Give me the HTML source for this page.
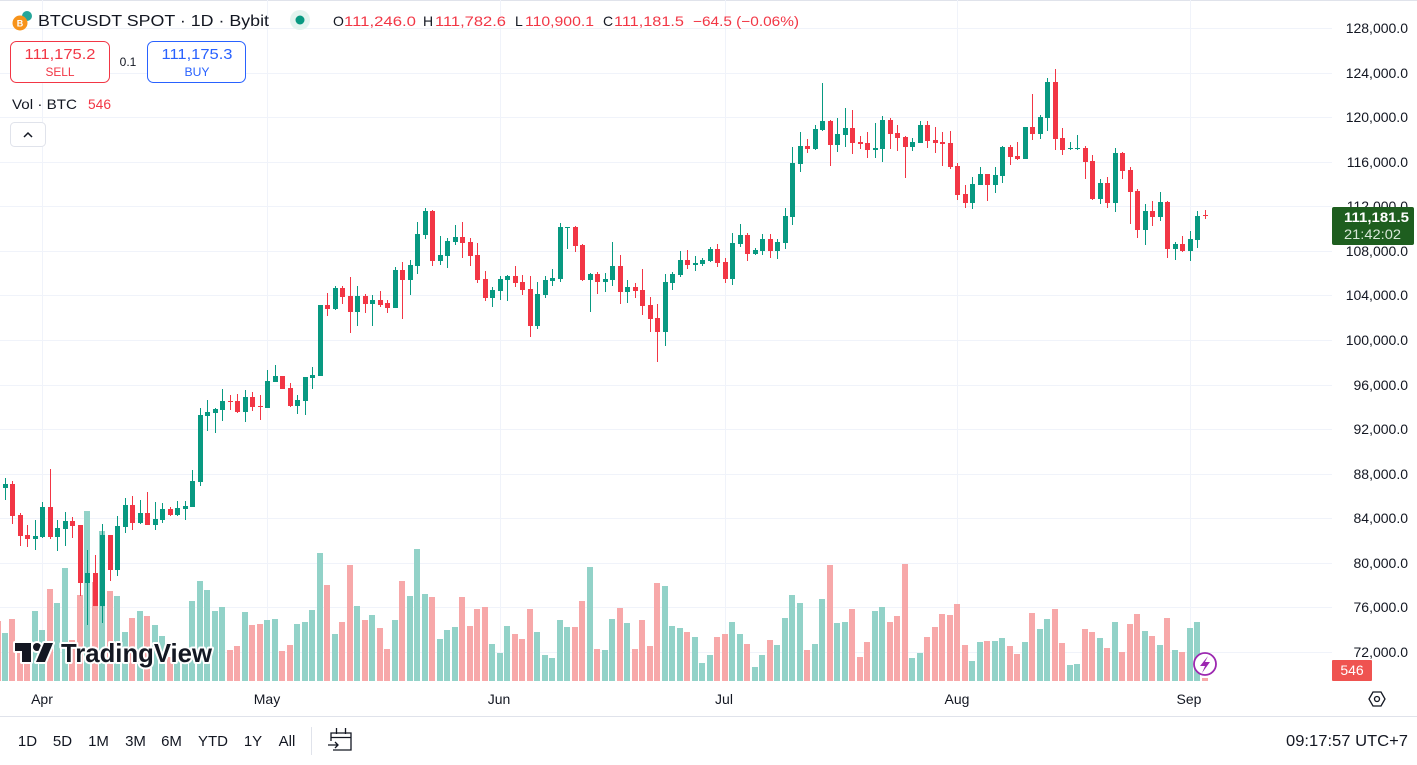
<!DOCTYPE html>
<html><head><meta charset="utf-8"><style>
html,body{margin:0;padding:0;background:#fff;}
svg{display:block;font-family:"Liberation Sans",sans-serif;}
</style></head><body>
<svg width="1417" height="765" viewBox="0 0 1417 765" xmlns="http://www.w3.org/2000/svg">
<rect x="0" y="0" width="1417" height="765" fill="#fff"/>
<line x1="0" y1="0.5" x2="1417" y2="0.5" stroke="#e0e3eb"/>
<!-- grid -->
<g stroke="#f0f3fa" stroke-width="1">
<line x1="0" y1="28.5" x2="1332" y2="28.5"/><line x1="0" y1="73.5" x2="1332" y2="73.5"/><line x1="0" y1="117.5" x2="1332" y2="117.5"/><line x1="0" y1="162.5" x2="1332" y2="162.5"/><line x1="0" y1="206.5" x2="1332" y2="206.5"/><line x1="0" y1="251.5" x2="1332" y2="251.5"/><line x1="0" y1="295.5" x2="1332" y2="295.5"/><line x1="0" y1="340.5" x2="1332" y2="340.5"/><line x1="0" y1="385.5" x2="1332" y2="385.5"/><line x1="0" y1="429.5" x2="1332" y2="429.5"/><line x1="0" y1="474.5" x2="1332" y2="474.5"/><line x1="0" y1="518.5" x2="1332" y2="518.5"/><line x1="0" y1="563.5" x2="1332" y2="563.5"/><line x1="0" y1="607.5" x2="1332" y2="607.5"/><line x1="0" y1="652.5" x2="1332" y2="652.5"/>
<line x1="42.5" y1="0" x2="42.5" y2="681"/><line x1="267.5" y1="0" x2="267.5" y2="681"/><line x1="500.5" y1="0" x2="500.5" y2="681"/><line x1="725.5" y1="0" x2="725.5" y2="681"/><line x1="957.5" y1="0" x2="957.5" y2="681"/><line x1="1190.5" y1="0" x2="1190.5" y2="681"/>
</g>
<!-- volume green -->
<g fill="#92d2c8">
<rect x="2" y="633" width="6" height="48"/><rect x="32" y="611" width="6" height="70"/><rect x="39" y="630" width="6" height="51"/><rect x="54" y="603" width="6" height="78"/><rect x="62" y="568" width="6" height="113"/><rect x="84" y="511" width="6" height="170"/><rect x="99" y="531" width="6" height="150"/><rect x="114" y="596" width="6" height="85"/><rect x="122" y="632" width="6" height="49"/><rect x="137" y="611" width="6" height="70"/><rect x="152" y="625" width="6" height="56"/><rect x="159" y="636" width="6" height="45"/><rect x="174" y="650" width="6" height="31"/><rect x="182" y="648" width="6" height="33"/><rect x="189" y="601" width="6" height="80"/><rect x="197" y="581" width="6" height="100"/><rect x="204" y="590" width="6" height="91"/><rect x="212" y="611" width="6" height="70"/><rect x="219" y="607" width="6" height="74"/><rect x="242" y="612" width="6" height="69"/><rect x="264" y="620" width="6" height="61"/><rect x="272" y="619" width="6" height="62"/><rect x="294" y="624" width="6" height="57"/><rect x="302" y="622" width="6" height="59"/><rect x="309" y="610" width="6" height="71"/><rect x="317" y="553" width="6" height="128"/><rect x="332" y="634" width="6" height="47"/><rect x="354" y="606" width="6" height="75"/><rect x="369" y="615" width="6" height="66"/><rect x="392" y="620" width="6" height="61"/><rect x="407" y="596" width="6" height="85"/><rect x="414" y="549" width="6" height="132"/><rect x="422" y="594" width="6" height="87"/><rect x="437" y="639" width="6" height="42"/><rect x="444" y="630" width="6" height="51"/><rect x="452" y="627" width="6" height="54"/><rect x="489" y="644" width="6" height="37"/><rect x="497" y="653" width="6" height="28"/><rect x="504" y="626" width="6" height="55"/><rect x="534" y="632" width="6" height="49"/><rect x="542" y="655" width="6" height="26"/><rect x="549" y="658" width="6" height="23"/><rect x="557" y="620" width="6" height="61"/><rect x="564" y="627" width="6" height="54"/><rect x="587" y="567" width="6" height="114"/><rect x="602" y="650" width="6" height="31"/><rect x="609" y="619" width="6" height="62"/><rect x="624" y="623" width="6" height="58"/><rect x="662" y="586" width="6" height="95"/><rect x="669" y="626" width="6" height="55"/><rect x="677" y="628" width="6" height="53"/><rect x="692" y="637" width="6" height="44"/><rect x="699" y="663" width="6" height="18"/><rect x="707" y="655" width="6" height="26"/><rect x="729" y="622" width="6" height="59"/><rect x="737" y="634" width="6" height="47"/><rect x="752" y="667" width="6" height="14"/><rect x="759" y="655" width="6" height="26"/><rect x="774" y="645" width="6" height="36"/><rect x="782" y="618" width="6" height="63"/><rect x="789" y="595" width="6" height="86"/><rect x="797" y="603" width="6" height="78"/><rect x="812" y="644" width="6" height="37"/><rect x="819" y="599" width="6" height="82"/><rect x="834" y="623" width="6" height="58"/><rect x="842" y="622" width="6" height="59"/><rect x="872" y="611" width="6" height="70"/><rect x="879" y="607" width="6" height="74"/><rect x="909" y="658" width="6" height="23"/><rect x="917" y="653" width="6" height="28"/><rect x="969" y="661" width="6" height="20"/><rect x="977" y="642" width="6" height="39"/><rect x="992" y="641" width="6" height="40"/><rect x="999" y="638" width="6" height="43"/><rect x="1022" y="642" width="6" height="39"/><rect x="1037" y="629" width="6" height="52"/><rect x="1044" y="619" width="6" height="62"/><rect x="1067" y="665" width="6" height="16"/><rect x="1074" y="664" width="6" height="17"/><rect x="1097" y="638" width="6" height="43"/><rect x="1112" y="622" width="6" height="59"/><rect x="1142" y="631" width="6" height="50"/><rect x="1157" y="645" width="6" height="36"/><rect x="1172" y="650" width="6" height="31"/><rect x="1187" y="628" width="6" height="53"/><rect x="1194" y="622" width="6" height="59"/>
</g>
<!-- volume red -->
<g fill="#f7a8a9">
<rect x="-5" y="621" width="6" height="60"/><rect x="9" y="619" width="6" height="62"/><rect x="17" y="650" width="6" height="31"/><rect x="24" y="653" width="6" height="28"/><rect x="47" y="589" width="6" height="92"/><rect x="69" y="640" width="6" height="41"/><rect x="77" y="595" width="6" height="86"/><rect x="92" y="582" width="6" height="99"/><rect x="107" y="591" width="6" height="90"/><rect x="129" y="618" width="6" height="63"/><rect x="144" y="616" width="6" height="65"/><rect x="167" y="657" width="6" height="24"/><rect x="227" y="650" width="6" height="31"/><rect x="234" y="646" width="6" height="35"/><rect x="249" y="625" width="6" height="56"/><rect x="257" y="624" width="6" height="57"/><rect x="279" y="651" width="6" height="30"/><rect x="287" y="645" width="6" height="36"/><rect x="324" y="585" width="6" height="96"/><rect x="339" y="622" width="6" height="59"/><rect x="347" y="565" width="6" height="116"/><rect x="362" y="620" width="6" height="61"/><rect x="377" y="628" width="6" height="53"/><rect x="384" y="649" width="6" height="32"/><rect x="399" y="581" width="6" height="100"/><rect x="429" y="597" width="6" height="84"/><rect x="459" y="597" width="6" height="84"/><rect x="467" y="626" width="6" height="55"/><rect x="474" y="609" width="6" height="72"/><rect x="482" y="607" width="6" height="74"/><rect x="512" y="634" width="6" height="47"/><rect x="519" y="639" width="6" height="42"/><rect x="527" y="609" width="6" height="72"/><rect x="572" y="627" width="6" height="54"/><rect x="579" y="601" width="6" height="80"/><rect x="594" y="649" width="6" height="32"/><rect x="617" y="608" width="6" height="73"/><rect x="632" y="649" width="6" height="32"/><rect x="639" y="620" width="6" height="61"/><rect x="647" y="646" width="6" height="35"/><rect x="654" y="583" width="6" height="98"/><rect x="684" y="632" width="6" height="49"/><rect x="714" y="637" width="6" height="44"/><rect x="722" y="634" width="6" height="47"/><rect x="744" y="644" width="6" height="37"/><rect x="767" y="640" width="6" height="41"/><rect x="804" y="650" width="6" height="31"/><rect x="827" y="565" width="6" height="116"/><rect x="849" y="609" width="6" height="72"/><rect x="857" y="657" width="6" height="24"/><rect x="864" y="642" width="6" height="39"/><rect x="887" y="622" width="6" height="59"/><rect x="894" y="616" width="6" height="65"/><rect x="902" y="564" width="6" height="117"/><rect x="924" y="637" width="6" height="44"/><rect x="932" y="627" width="6" height="54"/><rect x="939" y="614" width="6" height="67"/><rect x="947" y="615" width="6" height="66"/><rect x="954" y="604" width="6" height="77"/><rect x="962" y="645" width="6" height="36"/><rect x="984" y="641" width="6" height="40"/><rect x="1007" y="646" width="6" height="35"/><rect x="1014" y="654" width="6" height="27"/><rect x="1029" y="613" width="6" height="68"/><rect x="1052" y="609" width="6" height="72"/><rect x="1059" y="643" width="6" height="38"/><rect x="1082" y="629" width="6" height="52"/><rect x="1089" y="632" width="6" height="49"/><rect x="1104" y="648" width="6" height="33"/><rect x="1119" y="652" width="6" height="29"/><rect x="1127" y="624" width="6" height="57"/><rect x="1134" y="614" width="6" height="67"/><rect x="1149" y="636" width="6" height="45"/><rect x="1164" y="618" width="6" height="63"/><rect x="1179" y="652" width="6" height="29"/><rect x="1202" y="678" width="6" height="3"/>
</g>
<!-- candles green -->
<g fill="#089981">
<rect x="5" y="478" width="1" height="22"/><rect x="3" y="484" width="5" height="4"/>
<rect x="35" y="520" width="1" height="30"/><rect x="33" y="536" width="5" height="3"/>
<rect x="42" y="502" width="1" height="36"/><rect x="40" y="507" width="5" height="30"/>
<rect x="57" y="520" width="1" height="31"/><rect x="55" y="528" width="5" height="9"/>
<rect x="65" y="512" width="1" height="34"/><rect x="63" y="521" width="5" height="8"/>
<rect x="87" y="550" width="1" height="75"/><rect x="85" y="573" width="5" height="10"/>
<rect x="102" y="524" width="1" height="99"/><rect x="100" y="535" width="5" height="71"/>
<rect x="117" y="516" width="1" height="60"/><rect x="115" y="526" width="5" height="44"/>
<rect x="125" y="498" width="1" height="35"/><rect x="123" y="505" width="5" height="22"/>
<rect x="140" y="500" width="1" height="24"/><rect x="138" y="513" width="5" height="10"/>
<rect x="155" y="502" width="1" height="28"/><rect x="153" y="519" width="5" height="6"/>
<rect x="162" y="503" width="1" height="20"/><rect x="160" y="509" width="5" height="11"/>
<rect x="177" y="501" width="1" height="15"/><rect x="175" y="508" width="5" height="7"/>
<rect x="185" y="501" width="1" height="19"/><rect x="183" y="506" width="5" height="3"/>
<rect x="192" y="470" width="1" height="37"/><rect x="190" y="481" width="5" height="26"/>
<rect x="200" y="408" width="1" height="78"/><rect x="198" y="415" width="5" height="67"/>
<rect x="207" y="400" width="1" height="31"/><rect x="205" y="412" width="5" height="4"/>
<rect x="215" y="408" width="1" height="25"/><rect x="213" y="409" width="5" height="4"/>
<rect x="222" y="389" width="1" height="32"/><rect x="220" y="401" width="5" height="9"/>
<rect x="245" y="390" width="1" height="32"/><rect x="243" y="397" width="5" height="15"/>
<rect x="267" y="370" width="1" height="38"/><rect x="265" y="381" width="5" height="27"/>
<rect x="275" y="365" width="1" height="17"/><rect x="273" y="376" width="5" height="6"/>
<rect x="297" y="395" width="1" height="19"/><rect x="295" y="400" width="5" height="6"/>
<rect x="305" y="377" width="1" height="38"/><rect x="303" y="377" width="5" height="24"/>
<rect x="312" y="367" width="1" height="22"/><rect x="310" y="375" width="5" height="3"/>
<rect x="320" y="305" width="1" height="71"/><rect x="318" y="305" width="5" height="71"/>
<rect x="335" y="286" width="1" height="24"/><rect x="333" y="288" width="5" height="21"/>
<rect x="357" y="286" width="1" height="40"/><rect x="355" y="296" width="5" height="16"/>
<rect x="372" y="295" width="1" height="31"/><rect x="370" y="300" width="5" height="4"/>
<rect x="395" y="267" width="1" height="41"/><rect x="393" y="270" width="5" height="38"/>
<rect x="410" y="260" width="1" height="35"/><rect x="408" y="265" width="5" height="15"/>
<rect x="417" y="222" width="1" height="52"/><rect x="415" y="234" width="5" height="32"/>
<rect x="425" y="208" width="1" height="31"/><rect x="423" y="211" width="5" height="24"/>
<rect x="440" y="236" width="1" height="29"/><rect x="438" y="255" width="5" height="6"/>
<rect x="447" y="238" width="1" height="30"/><rect x="445" y="241" width="5" height="15"/>
<rect x="455" y="225" width="1" height="20"/><rect x="453" y="237" width="5" height="5"/>
<rect x="492" y="287" width="1" height="20"/><rect x="490" y="290" width="5" height="8"/>
<rect x="500" y="276" width="1" height="24"/><rect x="498" y="279" width="5" height="12"/>
<rect x="507" y="275" width="1" height="26"/><rect x="505" y="276" width="5" height="4"/>
<rect x="537" y="282" width="1" height="47"/><rect x="535" y="294" width="5" height="32"/>
<rect x="545" y="276" width="1" height="22"/><rect x="543" y="280" width="5" height="15"/>
<rect x="552" y="269" width="1" height="17"/><rect x="550" y="278" width="5" height="3"/>
<rect x="560" y="223" width="1" height="59"/><rect x="558" y="227" width="5" height="52"/>
<rect x="567" y="227" width="1" height="22"/><rect x="565" y="227" width="5" height="1"/>
<rect x="590" y="273" width="1" height="39"/><rect x="588" y="274" width="5" height="6"/>
<rect x="605" y="273" width="1" height="19"/><rect x="603" y="279" width="5" height="3"/>
<rect x="612" y="242" width="1" height="44"/><rect x="610" y="266" width="5" height="14"/>
<rect x="627" y="280" width="1" height="23"/><rect x="625" y="287" width="5" height="5"/>
<rect x="665" y="274" width="1" height="72"/><rect x="663" y="282" width="5" height="50"/>
<rect x="672" y="272" width="1" height="18"/><rect x="670" y="274" width="5" height="9"/>
<rect x="680" y="251" width="1" height="26"/><rect x="678" y="260" width="5" height="15"/>
<rect x="695" y="256" width="1" height="15"/><rect x="693" y="263" width="5" height="2"/>
<rect x="702" y="258" width="1" height="8"/><rect x="700" y="260" width="5" height="4"/>
<rect x="710" y="247" width="1" height="15"/><rect x="708" y="249" width="5" height="12"/>
<rect x="732" y="233" width="1" height="52"/><rect x="730" y="243" width="5" height="36"/>
<rect x="740" y="224" width="1" height="23"/><rect x="738" y="235" width="5" height="9"/>
<rect x="755" y="248" width="1" height="7"/><rect x="753" y="250" width="5" height="4"/>
<rect x="762" y="234" width="1" height="21"/><rect x="760" y="239" width="5" height="12"/>
<rect x="777" y="239" width="1" height="20"/><rect x="775" y="242" width="5" height="9"/>
<rect x="785" y="208" width="1" height="41"/><rect x="783" y="216" width="5" height="27"/>
<rect x="792" y="147" width="1" height="78"/><rect x="790" y="163" width="5" height="54"/>
<rect x="800" y="132" width="1" height="40"/><rect x="798" y="146" width="5" height="18"/>
<rect x="815" y="125" width="1" height="25"/><rect x="813" y="129" width="5" height="20"/>
<rect x="822" y="83" width="1" height="48"/><rect x="820" y="121" width="5" height="9"/>
<rect x="837" y="118" width="1" height="34"/><rect x="835" y="134" width="5" height="11"/>
<rect x="845" y="108" width="1" height="39"/><rect x="843" y="128" width="5" height="7"/>
<rect x="875" y="123" width="1" height="35"/><rect x="873" y="148" width="5" height="2"/>
<rect x="882" y="116" width="1" height="46"/><rect x="880" y="120" width="5" height="29"/>
<rect x="912" y="138" width="1" height="13"/><rect x="910" y="142" width="5" height="5"/>
<rect x="920" y="121" width="1" height="22"/><rect x="918" y="125" width="5" height="18"/>
<rect x="972" y="177" width="1" height="32"/><rect x="970" y="184" width="5" height="19"/>
<rect x="980" y="167" width="1" height="18"/><rect x="978" y="174" width="5" height="11"/>
<rect x="995" y="167" width="1" height="26"/><rect x="993" y="175" width="5" height="10"/>
<rect x="1002" y="146" width="1" height="37"/><rect x="1000" y="147" width="5" height="29"/>
<rect x="1025" y="127" width="1" height="32"/><rect x="1023" y="127" width="5" height="32"/>
<rect x="1040" y="115" width="1" height="24"/><rect x="1038" y="117" width="5" height="17"/>
<rect x="1047" y="78" width="1" height="53"/><rect x="1045" y="82" width="5" height="36"/>
<rect x="1070" y="142" width="1" height="8"/><rect x="1068" y="148" width="5" height="1"/>
<rect x="1077" y="135" width="1" height="15"/><rect x="1075" y="148" width="5" height="1"/>
<rect x="1100" y="179" width="1" height="25"/><rect x="1098" y="183" width="5" height="16"/>
<rect x="1115" y="148" width="1" height="64"/><rect x="1113" y="153" width="5" height="50"/>
<rect x="1145" y="204" width="1" height="41"/><rect x="1143" y="211" width="5" height="19"/>
<rect x="1160" y="192" width="1" height="29"/><rect x="1158" y="202" width="5" height="15"/>
<rect x="1175" y="242" width="1" height="18"/><rect x="1173" y="244" width="5" height="5"/>
<rect x="1190" y="231" width="1" height="30"/><rect x="1188" y="239" width="5" height="12"/>
<rect x="1197" y="211" width="1" height="37"/><rect x="1195" y="216" width="5" height="24"/>
</g>
<!-- candles red -->
<g fill="#f23645">
<rect x="12" y="481" width="1" height="43"/><rect x="10" y="484" width="5" height="32"/>
<rect x="20" y="513" width="1" height="33"/><rect x="18" y="515" width="5" height="21"/>
<rect x="27" y="525" width="1" height="22"/><rect x="25" y="535" width="5" height="4"/>
<rect x="50" y="469" width="1" height="70"/><rect x="48" y="507" width="5" height="30"/>
<rect x="72" y="517" width="1" height="21"/><rect x="70" y="521" width="5" height="5"/>
<rect x="80" y="525" width="1" height="71"/><rect x="78" y="525" width="5" height="58"/>
<rect x="95" y="555" width="1" height="51"/><rect x="93" y="573" width="5" height="33"/>
<rect x="110" y="535" width="1" height="46"/><rect x="108" y="535" width="5" height="35"/>
<rect x="132" y="496" width="1" height="34"/><rect x="130" y="505" width="5" height="18"/>
<rect x="147" y="492" width="1" height="33"/><rect x="145" y="513" width="5" height="12"/>
<rect x="170" y="507" width="1" height="9"/><rect x="168" y="509" width="5" height="6"/>
<rect x="230" y="395" width="1" height="15"/><rect x="228" y="401" width="5" height="1"/>
<rect x="237" y="394" width="1" height="19"/><rect x="235" y="401" width="5" height="11"/>
<rect x="252" y="392" width="1" height="19"/><rect x="250" y="397" width="5" height="10"/>
<rect x="260" y="395" width="1" height="25"/><rect x="258" y="406" width="5" height="1"/>
<rect x="282" y="376" width="1" height="13"/><rect x="280" y="376" width="5" height="13"/>
<rect x="290" y="383" width="1" height="24"/><rect x="288" y="388" width="5" height="18"/>
<rect x="327" y="293" width="1" height="23"/><rect x="325" y="305" width="5" height="4"/>
<rect x="342" y="286" width="1" height="18"/><rect x="340" y="288" width="5" height="9"/>
<rect x="350" y="277" width="1" height="56"/><rect x="348" y="296" width="5" height="16"/>
<rect x="365" y="294" width="1" height="19"/><rect x="363" y="296" width="5" height="8"/>
<rect x="380" y="291" width="1" height="16"/><rect x="378" y="300" width="5" height="5"/>
<rect x="387" y="300" width="1" height="13"/><rect x="385" y="303" width="5" height="5"/>
<rect x="402" y="262" width="1" height="57"/><rect x="400" y="270" width="5" height="10"/>
<rect x="432" y="210" width="1" height="56"/><rect x="430" y="211" width="5" height="50"/>
<rect x="462" y="222" width="1" height="36"/><rect x="460" y="237" width="5" height="6"/>
<rect x="470" y="238" width="1" height="28"/><rect x="468" y="242" width="5" height="14"/>
<rect x="477" y="243" width="1" height="40"/><rect x="475" y="255" width="5" height="25"/>
<rect x="485" y="271" width="1" height="30"/><rect x="483" y="279" width="5" height="19"/>
<rect x="515" y="266" width="1" height="21"/><rect x="513" y="276" width="5" height="7"/>
<rect x="522" y="275" width="1" height="20"/><rect x="520" y="282" width="5" height="8"/>
<rect x="530" y="276" width="1" height="61"/><rect x="528" y="289" width="5" height="37"/>
<rect x="575" y="226" width="1" height="26"/><rect x="573" y="227" width="5" height="19"/>
<rect x="582" y="244" width="1" height="37"/><rect x="580" y="245" width="5" height="35"/>
<rect x="597" y="272" width="1" height="22"/><rect x="595" y="274" width="5" height="8"/>
<rect x="620" y="255" width="1" height="49"/><rect x="618" y="266" width="5" height="26"/>
<rect x="635" y="283" width="1" height="15"/><rect x="633" y="287" width="5" height="4"/>
<rect x="642" y="269" width="1" height="46"/><rect x="640" y="290" width="5" height="16"/>
<rect x="650" y="297" width="1" height="35"/><rect x="648" y="305" width="5" height="14"/>
<rect x="657" y="304" width="1" height="58"/><rect x="655" y="318" width="5" height="14"/>
<rect x="687" y="250" width="1" height="19"/><rect x="685" y="260" width="5" height="5"/>
<rect x="717" y="244" width="1" height="23"/><rect x="715" y="249" width="5" height="14"/>
<rect x="725" y="258" width="1" height="25"/><rect x="723" y="262" width="5" height="17"/>
<rect x="747" y="233" width="1" height="28"/><rect x="745" y="235" width="5" height="19"/>
<rect x="770" y="234" width="1" height="24"/><rect x="768" y="239" width="5" height="12"/>
<rect x="807" y="139" width="1" height="14"/><rect x="805" y="146" width="5" height="3"/>
<rect x="830" y="120" width="1" height="46"/><rect x="828" y="121" width="5" height="24"/>
<rect x="852" y="110" width="1" height="44"/><rect x="850" y="128" width="5" height="15"/>
<rect x="860" y="136" width="1" height="13"/><rect x="858" y="142" width="5" height="2"/>
<rect x="867" y="132" width="1" height="26"/><rect x="865" y="143" width="5" height="7"/>
<rect x="890" y="118" width="1" height="31"/><rect x="888" y="120" width="5" height="14"/>
<rect x="897" y="125" width="1" height="26"/><rect x="895" y="133" width="5" height="5"/>
<rect x="905" y="136" width="1" height="42"/><rect x="903" y="137" width="5" height="10"/>
<rect x="927" y="121" width="1" height="27"/><rect x="925" y="125" width="5" height="16"/>
<rect x="935" y="127" width="1" height="26"/><rect x="933" y="140" width="5" height="3"/>
<rect x="942" y="132" width="1" height="34"/><rect x="940" y="142" width="5" height="2"/>
<rect x="950" y="131" width="1" height="38"/><rect x="948" y="143" width="5" height="24"/>
<rect x="957" y="163" width="1" height="37"/><rect x="955" y="166" width="5" height="29"/>
<rect x="965" y="185" width="1" height="23"/><rect x="963" y="194" width="5" height="9"/>
<rect x="987" y="174" width="1" height="27"/><rect x="985" y="174" width="5" height="11"/>
<rect x="1010" y="145" width="1" height="20"/><rect x="1008" y="147" width="5" height="10"/>
<rect x="1017" y="142" width="1" height="18"/><rect x="1015" y="156" width="5" height="3"/>
<rect x="1032" y="94" width="1" height="46"/><rect x="1030" y="127" width="5" height="7"/>
<rect x="1055" y="69" width="1" height="81"/><rect x="1053" y="82" width="5" height="57"/>
<rect x="1062" y="128" width="1" height="27"/><rect x="1060" y="138" width="5" height="12"/>
<rect x="1085" y="146" width="1" height="33"/><rect x="1083" y="148" width="5" height="14"/>
<rect x="1092" y="155" width="1" height="45"/><rect x="1090" y="161" width="5" height="38"/>
<rect x="1107" y="177" width="1" height="31"/><rect x="1105" y="183" width="5" height="20"/>
<rect x="1122" y="152" width="1" height="27"/><rect x="1120" y="153" width="5" height="18"/>
<rect x="1130" y="167" width="1" height="57"/><rect x="1128" y="170" width="5" height="22"/>
<rect x="1137" y="189" width="1" height="49"/><rect x="1135" y="191" width="5" height="39"/>
<rect x="1152" y="201" width="1" height="25"/><rect x="1150" y="211" width="5" height="6"/>
<rect x="1167" y="201" width="1" height="57"/><rect x="1165" y="202" width="5" height="47"/>
<rect x="1182" y="236" width="1" height="16"/><rect x="1180" y="244" width="5" height="7"/>
<rect x="1205" y="210" width="1" height="9"/><rect x="1203" y="215" width="5" height="1"/>
</g>
<!-- TradingView logo -->
<g stroke="#fff" stroke-width="4" stroke-linejoin="round" paint-order="stroke" fill="#131722">
<path d="M15 643H31V662H22V651H15Z"/>
<circle cx="37" cy="647" r="4"/>
<path d="M44 643H53L45 662H36Z"/>
<text x="61" y="662" font-size="26" font-weight="bold" textLength="151" lengthAdjust="spacingAndGlyphs">TradingView</text>
</g>
<!-- lightning -->
<circle cx="1205" cy="664" r="11" fill="#fff" stroke="#9c27b0" stroke-width="1.8"/>
<path d="M1208 656L1200 666H1205L1202 673L1210 662H1205Z" fill="#9c27b0"/>
<!-- header -->
<circle cx="27" cy="16" r="5" fill="#26a69a"/>
<circle cx="20" cy="23" r="7.5" fill="#f7931a"/>
<text x="20" y="26.5" font-size="9" font-weight="bold" fill="#fff" text-anchor="middle">B</text>
<text x="38" y="26" font-size="16" fill="#131722" textLength="231" lengthAdjust="spacingAndGlyphs">BTCUSDT SPOT · 1D · Bybit</text>
<circle cx="300" cy="20" r="10" fill="#e3f4ef"/>
<circle cx="300" cy="20" r="4.5" fill="#089981"/>
<g font-size="14">
<text x="333" y="26" fill="#131722">O</text><text x="344" y="26" fill="#f23645" textLength="72" lengthAdjust="spacingAndGlyphs">111,246.0</text>
<text x="423" y="26" fill="#131722">H</text><text x="435" y="26" fill="#f23645" textLength="71" lengthAdjust="spacingAndGlyphs">111,782.6</text>
<text x="515" y="26" fill="#131722">L</text><text x="525" y="26" fill="#f23645" textLength="69" lengthAdjust="spacingAndGlyphs">110,900.1</text>
<text x="603" y="26" fill="#131722">C</text><text x="614" y="26" fill="#f23645" textLength="70" lengthAdjust="spacingAndGlyphs">111,181.5</text>
<text x="693" y="26" fill="#f23645" textLength="106" lengthAdjust="spacingAndGlyphs">−64.5 (−0.06%)</text>
</g>
<rect x="10.5" y="41.5" width="99" height="41" rx="6" fill="#fff" stroke="#f23645"/>
<text x="60" y="59" font-size="15" fill="#f23645" text-anchor="middle" textLength="71" lengthAdjust="spacingAndGlyphs">111,175.2</text>
<text x="60" y="76" font-size="12" fill="#f23645" text-anchor="middle" textLength="29" lengthAdjust="spacingAndGlyphs">SELL</text>
<text x="128" y="66" font-size="12" fill="#131722" text-anchor="middle">0.1</text>
<rect x="147.5" y="41.5" width="98" height="41" rx="6" fill="#fff" stroke="#2962ff"/>
<text x="197" y="59" font-size="15" fill="#2962ff" text-anchor="middle" textLength="71" lengthAdjust="spacingAndGlyphs">111,175.3</text>
<text x="197" y="76" font-size="12" fill="#2962ff" text-anchor="middle" textLength="25" lengthAdjust="spacingAndGlyphs">BUY</text>
<text x="12" y="109" font-size="14" fill="#131722" textLength="65" lengthAdjust="spacingAndGlyphs">Vol · BTC</text>
<text x="88" y="109" font-size="14" fill="#f23645" textLength="23" lengthAdjust="spacingAndGlyphs">546</text>
<rect x="10.5" y="122.5" width="35" height="24" rx="4" fill="#fff" stroke="#e0e3eb"/>
<path d="M24 137L28 133L32 137" fill="none" stroke="#131722" stroke-width="1.5"/>
<!-- price axis -->
<g font-size="14" fill="#131722" text-anchor="end">
<text x="1408" y="33">128,000.0</text><text x="1408" y="78">124,000.0</text><text x="1408" y="122">120,000.0</text><text x="1408" y="167">116,000.0</text><text x="1408" y="211">112,000.0</text><text x="1408" y="256">108,000.0</text><text x="1408" y="300">104,000.0</text><text x="1408" y="345">100,000.0</text><text x="1408" y="390">96,000.0</text><text x="1408" y="434">92,000.0</text><text x="1408" y="479">88,000.0</text><text x="1408" y="523">84,000.0</text><text x="1408" y="568">80,000.0</text><text x="1408" y="612">76,000.0</text><text x="1408" y="657">72,000.0</text>
</g>
<rect x="1332" y="207" width="82" height="38" rx="2" fill="#1e5e1f"/>
<text x="1344" y="222" font-size="14" font-weight="bold" fill="#fff" textLength="65" lengthAdjust="spacingAndGlyphs">111,181.5</text>
<text x="1344" y="239" font-size="14" fill="#d8e8d8" textLength="57" lengthAdjust="spacingAndGlyphs">21:42:02</text>
<rect x="1332" y="660" width="40" height="21" rx="1" fill="#ef5350"/>
<text x="1352" y="675" font-size="14" fill="#fff" text-anchor="middle">546</text>
<!-- time axis -->
<g font-size="14" fill="#131722" text-anchor="middle">
<text x="42" y="704">Apr</text><text x="267" y="704">May</text><text x="499" y="704">Jun</text><text x="724" y="704">Jul</text><text x="957" y="704">Aug</text><text x="1189" y="704">Sep</text>
</g>
<path d="M1369 699L1373 692H1381L1385 699L1381 706H1373Z" fill="none" stroke="#131722" stroke-width="1.3"/>
<circle cx="1377" cy="699" r="2.5" fill="none" stroke="#131722" stroke-width="1.3"/>
<!-- bottom toolbar -->
<line x1="0" y1="716.5" x2="1417" y2="716.5" stroke="#e0e3eb"/>
<g font-size="15" fill="#131722" text-anchor="middle">
<text x="27.5" y="746">1D</text><text x="62.5" y="746">5D</text><text x="98.5" y="746">1M</text><text x="135.5" y="746">3M</text><text x="171.5" y="746">6M</text><text x="213" y="746">YTD</text><text x="253" y="746">1Y</text><text x="287" y="746">All</text>
</g>
<line x1="311.5" y1="727" x2="311.5" y2="755" stroke="#e0e3eb"/>
<g fill="none" stroke="#131722" stroke-width="1.3">
<path d="M331 741V733H351V750H333"/>
<line x1="331" y1="737.5" x2="351" y2="737.5"/>
<line x1="336.5" y1="728" x2="336.5" y2="734"/>
<line x1="345.5" y1="728" x2="345.5" y2="734"/>
<path d="M328 745H338M335 742L338 745L335 748"/>
</g>
<text x="1408" y="746" font-size="16" fill="#131722" text-anchor="end" textLength="122" lengthAdjust="spacingAndGlyphs">09:17:57 UTC+7</text>
</svg>
</body></html>
